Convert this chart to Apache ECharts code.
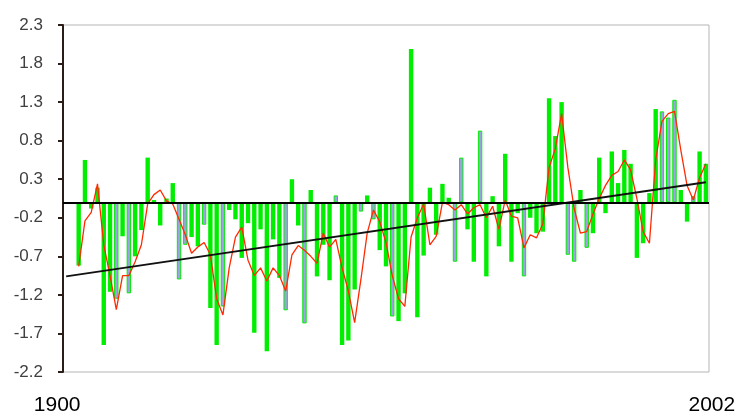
<!DOCTYPE html>
<html>
<head>
<meta charset="utf-8">
<script src="https://cdn.jsdelivr.net/npm/echarts@6/dist/echarts.min.js"></script>
<style>
  html, body { margin: 0; padding: 0; background: #fff; }
  #main { width: 741px; height: 416px; }
</style>
</head>
<body>
<div id="main"></div>
<script>
var firstYear = 1900;
var lastYear = 2002;
var years = [];
for (var y = firstYear; y <= lastYear; y++) years.push(String(y));

// yearly anomaly bars (1900, 1901 have no data)
var anomaly = [
  null, null, -0.82, 0.55, -0.08, 0.19, -1.85, -1.16, -1.25, -0.44,
  -1.18, -0.70, -0.36, 0.58, 0.03, -0.30, 0.05, 0.25, -1.00, -0.55,
  -0.45, -0.57, -0.29, -1.37, -1.85, -1.35, -0.10, -0.22, -0.72, -0.27,
  -1.69, -0.35, -1.93, -0.48, -0.98, -1.40, 0.30, -0.30, -1.57, 0.16,
  -0.96, -0.55, -1.01, 0.09, -1.85, -1.79, -1.13, -0.12, 0.09, -0.22,
  -0.62, -0.83, -1.48, -1.54, -1.18, 1.99, -1.49, -0.69, 0.19, -0.42,
  0.24, 0.06, -0.77, 0.58, -0.35, -0.77, 0.93, -0.96, 0.08, -0.57,
  0.63, -0.77, -0.14, -0.96, -0.20, -0.40, -0.38, 1.35, 0.86, 1.30,
  -0.68, -0.77, 0.16, -0.59, -0.40, 0.58, -0.14, 0.66, 0.25, 0.68,
  0.50, -0.72, -0.53, 0.12, 1.21, 1.18, 1.10, 1.33, 0.16, -0.25,
  0.08, 0.66, 0.50
];

// years drawn with the pale blue fill
var paleYears = ['1908', '1910', '1918', '1919', '1922', '1925', '1935', '1938', '1943',
  '1947', '1949', '1952', '1962', '1963', '1966', '1973', '1980', '1981', '1983',
  '1995', '1996', '1997', '2000'];

// red smoothed curve
var smoothed = [
  null, null, -0.83, -0.24, -0.13, 0.24, -0.55, -0.95, -1.39, -0.95,
  -0.95, -0.77, -0.55, -0.02, 0.10, 0.16, 0.02, -0.02, -0.22, -0.42,
  -0.66, -0.58, -0.52, -0.68, -1.25, -1.46, -0.85, -0.45, -0.32, -0.75,
  -0.95, -0.85, -1.02, -0.85, -0.95, -1.15, -0.68, -0.56, -0.62, -0.70,
  -0.79, -0.40, -0.58, -0.48, -0.85, -1.15, -1.56, -1.00, -0.40, -0.10,
  -0.25, -0.52, -0.95, -1.25, -1.35, -0.45, -0.20, -0.02, -0.55, -0.44,
  0.00, -0.03, -0.10, -0.03, -0.15, -0.07, -0.03, -0.20, -0.05, -0.35,
  0.03, -0.18, -0.20, -0.59, -0.42, -0.46, -0.28, 0.45, 0.70, 1.15,
  0.45, -0.08, -0.40, -0.38, -0.15, 0.05, 0.22, 0.35, 0.40, 0.55,
  0.42, 0.05, -0.38, -0.53, 0.55, 1.05, 1.15, 1.18, 0.68, 0.22,
  0.03, 0.32, 0.50
];

// linear trend end points
var trendYears = ['1900', '2002'];
var trendValues = [-0.96, 0.26];

var green = '#00ee00';
var pale = '#a0a0e8';

var barData = anomaly.map(function (v, i) {
  if (paleYears.indexOf(years[i]) >= 0) {
    return { value: v, itemStyle: { color: pale, borderColor: green, borderWidth: 1 } };
  }
  return v;
});

var chart = echarts.init(document.getElementById('main'));
var option = {
  animation: false,
  grid: {
    left: 63, right: 32, top: 25, bottom: 44,
    show: true, borderColor: '#b5b5b5', borderWidth: 1
  },
  xAxis: {
    type: 'category',
    data: years,
    axisLine: { show: false },
    axisTick: { show: false },
    splitLine: { show: false },
    axisLabel: {
      interval: function (i) { return i === 0 || i === years.length - 1; },
      margin: 23,
      formatter: function (v, i) { return i === 0 ? '{a|' + v + '}' : '{b|' + v + '}'; },
      rich: {
        a: { fontSize: 21, color: '#000', fontFamily: 'Liberation Sans', padding: [0, 18, 0, 0] },
        b: { fontSize: 21, color: '#000', fontFamily: 'Liberation Sans', padding: [0, 0, 0, 12] }
      }
    }
  },
  yAxis: {
    type: 'value',
    min: -2.2,
    max: 2.3,
    interval: 0.5,
    axisLine: { show: true, lineStyle: { color: '#2a1d17', width: 2 } },
    axisTick: { show: true, length: 5, lineStyle: { color: '#2a1d17', width: 2 } },
    splitLine: { show: false },
    axisLabel: {
      margin: 20,
      fontSize: 17,
      color: '#404040',
      fontFamily: 'Liberation Sans',
      formatter: function (v) { return v.toFixed(1); }
    }
  },
  series: [
    {
      type: 'bar',
      data: barData,
      barWidth: '70%',
      itemStyle: { color: green },
      markLine: {
        silent: true,
        symbol: 'none',
        label: { show: false },
        lineStyle: { color: '#000', width: 2, type: 'solid' },
        data: [{ yAxis: 0 }]
      }
    },
    {
      type: 'line',
      data: smoothed,
      symbol: 'none',
      lineStyle: { color: '#ff2a00', width: 1.3 },
      z: 3
    },
    {
      type: 'line',
      data: trendYears.map(function (t, i) { return [t, trendValues[i]]; }),
      symbol: 'none',
      lineStyle: { color: '#111', width: 2 },
      z: 4
    }
  ]
};
chart.setOption(option);
</script>
</body>
</html>
